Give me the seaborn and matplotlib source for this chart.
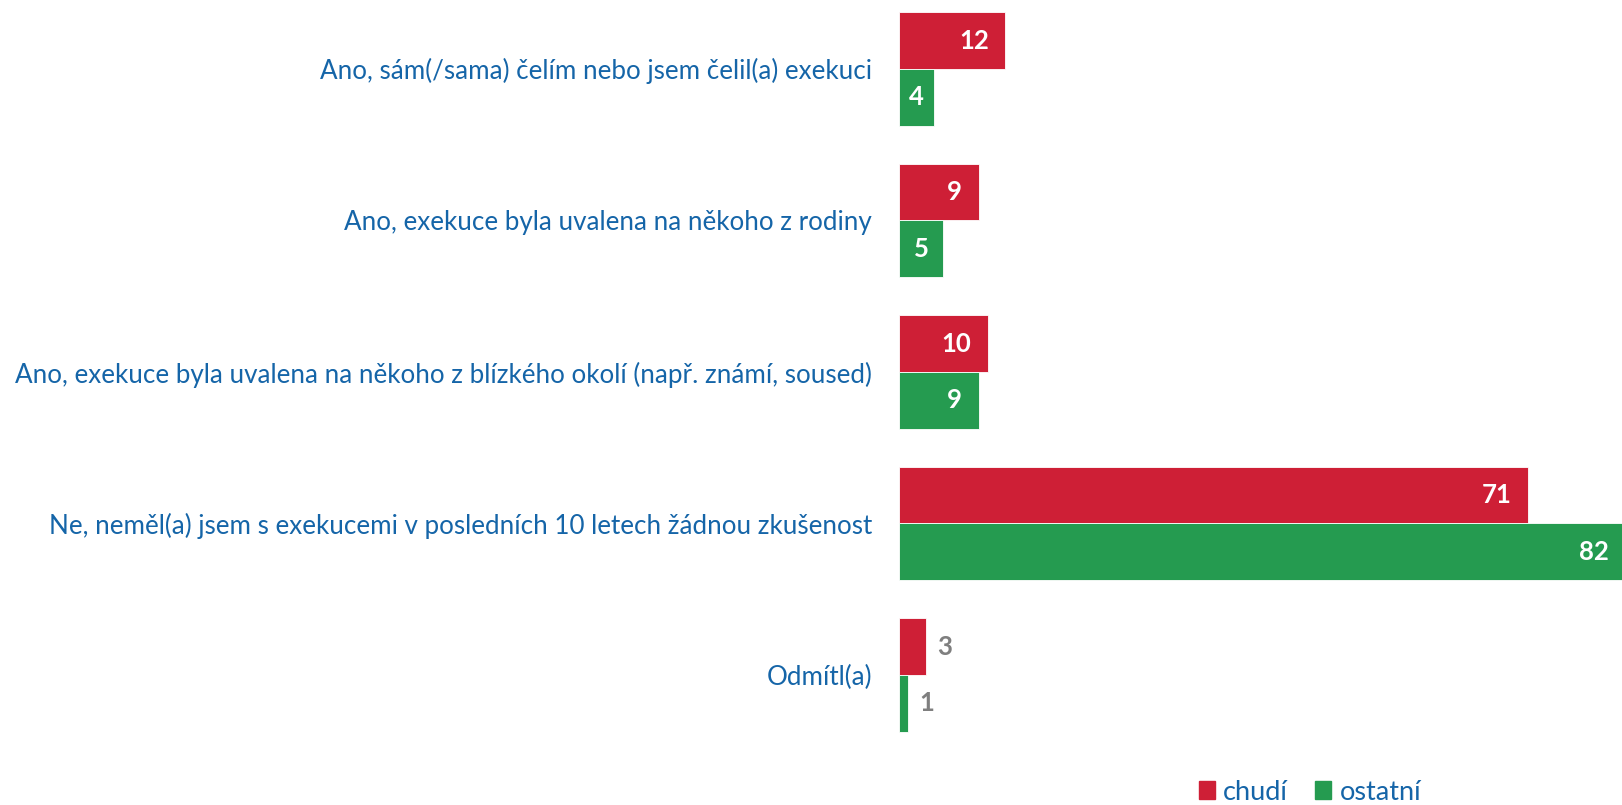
import matplotlib
matplotlib.use("Agg")
import matplotlib.pyplot as plt
from matplotlib.patches import Patch
import pandas as pd
import seaborn as sns

categories = [
    "Ano, sám(/sama) čelím nebo jsem čelil(a) exekuci",
    "Ano, exekuce byla uvalena na někoho z rodiny",
    "Ano, exekuce byla uvalena na někoho z blízkého okolí (např. známí, soused)",
    "Ne, neměl(a) jsem s exekucemi v posledních 10 letech žádnou zkušenost",
    "Odmítl(a)",
]
series_names = ["chudí", "ostatní"]
chudi = [12, 9, 10, 71, 3]
ostatni = [4, 5, 9, 82, 1]

red = "#CE1F36"
green = "#259B50"
blue = "#1565A8"
gray = "#7F7F7F"

df = pd.DataFrame({
    "kategorie": categories * 2,
    "skupina": [series_names[0]] * len(categories) + [series_names[1]] * len(categories),
    "hodnota": chudi + ostatni,
})

sns.set_theme(style="white")
plt.rcParams["font.family"] = ["Lato", "DejaVu Sans"]

fig = plt.figure(figsize=(16.22, 8.05), dpi=100)
ax = fig.add_axes([899 / 1622, 45 / 805, 723 / 1622, 760 / 805])

sns.barplot(data=df, y="kategorie", x="hodnota", hue="skupina",
            palette=[red, green], saturation=1, orient="h", width=0.75, dodge=True,
            edgecolor="white", linewidth=0.6, ax=ax, legend=False)

ax.set_xlim(0, 81.6)
ax.set_ylim(4.561, -0.455)
ax.set_xlabel("")
ax.set_ylabel("")
ax.set_xticks([])
ax.tick_params(axis="y", length=0, pad=19.5, labelsize=18.7, labelcolor=blue)
sns.despine(ax=ax, left=True, bottom=True)

# value labels
for container, vals in zip(ax.containers, [chudi, ostatni]):
    for bar, v in zip(container, vals):
        yc = bar.get_y() + bar.get_height() / 2
        if v >= 6:
            ax.annotate(str(v), (v, yc), xytext=(-12, 0), textcoords="offset points",
                        ha="right", va="center", color="white", fontsize=18.5,
                        fontweight="bold", annotation_clip=False)
        elif v >= 4:
            ax.annotate(str(v), (v / 2, yc), ha="center", va="center", color="white",
                        fontsize=18.5, fontweight="bold")
        else:
            ax.annotate(str(v), (v, yc), xytext=(8, 0), textcoords="offset points",
                        ha="left", va="center", color=gray, fontsize=18.5,
                        fontweight="bold")

handles = [Patch(color=red, label=series_names[0]), Patch(color=green, label=series_names[1])]
leg = fig.legend(handles=handles, loc="center", bbox_to_anchor=(1310 / 1622, 13 / 805),
                 ncol=2, frameon=False, fontsize=19.5, handlelength=0.6, handleheight=0.6,
                 handletextpad=0.3, columnspacing=1.0, borderpad=0)
for t in leg.get_texts():
    t.set_color(blue)

fig.savefig("out.png", dpi=100)
